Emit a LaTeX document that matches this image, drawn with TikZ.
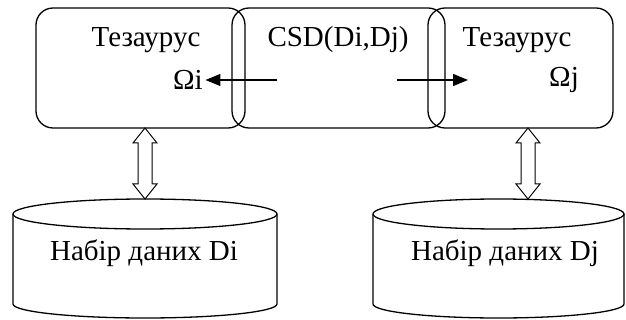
\documentclass[tikz,border=0pt]{standalone}
\usepackage{fontspec}
\setmainfont{Liberation Serif}
\newfontfamily\lblfont{Liberation Serif}
\usetikzlibrary{positioning}
\usetikzlibrary{calc}
\usetikzlibrary{arrows.meta}
\tikzset{>={Triangle[length=15pt,width=12pt]}}

\begin{document}
\begin{tikzpicture}[x=1pt, y=-1pt, line width=1.3pt,
    thbox/.style={draw, rounded corners=17pt, inner sep=0pt},
    lbl/.style={inner sep=2pt, font=\lblfont\fontsize{29}{32}\selectfont},
    dblarr/.style={draw, line width=1pt, fill=white}]

\useasboundingbox (0,0) rectangle (626,320);

% Boxes (transparent, overlapping)
\node[thbox, minimum width=209, minimum height=120] (lbox) at (140.5,68) {};
\node[thbox, minimum width=213, minimum height=120] (cbox) at (338.5,68) {};
\node[thbox, minimum width=185, minimum height=120] (rbox) at (520.5,68) {};

% Box texts
\node[lbl] (lname) at (146,40) {Тезаурус};
\node[lbl] (lomega) at (188,80) {Ωi};
\node[lbl] (csd) at (338,40) {CSD(Di,Dj)};
\node[lbl] (rname) at (517,40) {Тезаурус};
\node[lbl] (romega) at (564,80) {Ωj};

% Arrows from CSD
\coordinate (lstart) at (277,80);
\coordinate (rstart) at (397,80);
\coordinate (rend) at (468,80);
\draw[->] (lstart) -- (lomega.east);
\draw[->] (rstart) -- (rend);

% Data sets (cylinders)
\coordinate (ldb) at (145,214);
\coordinate (rdb) at (498.5,214);
\draw (13,214) -- (13,304) arc[start angle=180, end angle=0, x radius=132, y radius=14] -- (277,214);
\draw (ldb) ellipse [x radius=132, y radius=15];
\draw (373,214) -- (373,304) arc[start angle=180, end angle=0, x radius=125.5, y radius=14] -- (624,214);
\draw (rdb) ellipse [x radius=125.5, y radius=15];
\node[lbl] (lset) at (144,253) {Набір даних Di};
\node[lbl] (rset) at (505,253) {Набір даних Dj};

% Double arrows
\coordinate (ltop) at (145,128);
\coordinate (lbot) at (145,199);
\coordinate (rtop) at (528,128);
\coordinate (rbot) at (528,199);
\draw[dblarr] (ltop) -- ++(12,15) -- ++(-5,0) -- ++(0,41) -- ++(5,0) -- (lbot)
    -- ++(-12,-15) -- ++(5,0) -- ++(0,-41) -- ++(-5,0) -- cycle;
\draw[dblarr] (rtop) -- ++(12,15) -- ++(-5,0) -- ++(0,41) -- ++(5,0) -- (rbot)
    -- ++(-12,-15) -- ++(5,0) -- ++(0,-41) -- ++(-5,0) -- cycle;

\end{tikzpicture}
\end{document}
